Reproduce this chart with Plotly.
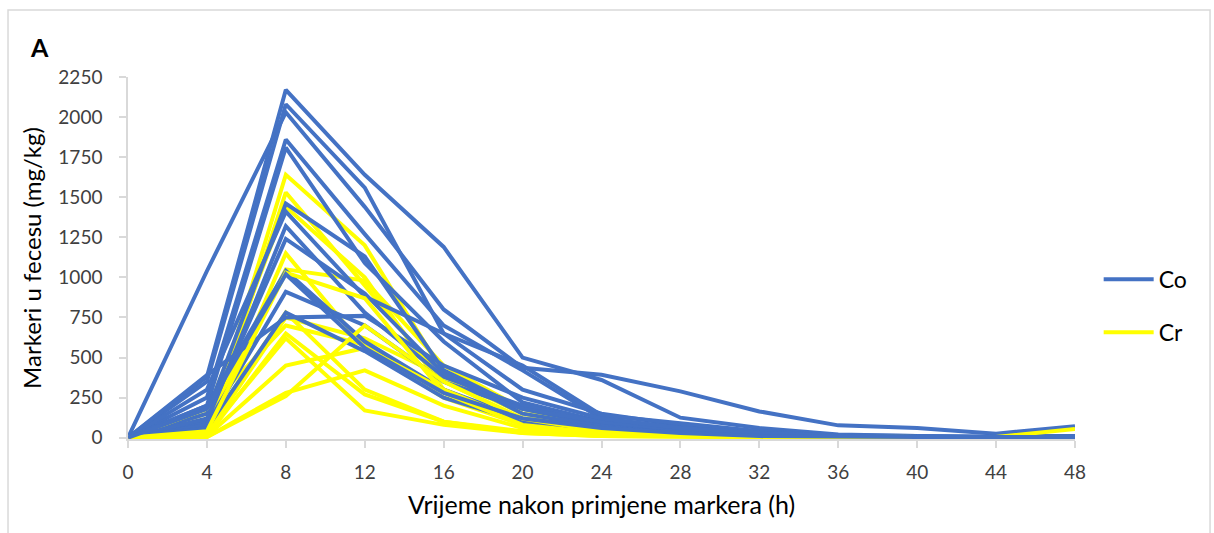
import plotly.graph_objects as go

# Sampling times after marker application (h)
hours = [0, 4, 8, 12, 16, 20, 24, 28, 32, 36, 40, 44, 48]
x_ticks = hours
y_ticks = [0, 250, 500, 750, 1000, 1250, 1500, 1750, 2000, 2250]

# Cobalt (Co) concentration in faeces, mg/kg, one list per animal
co_1 = [0, 1040, 2030, 1440, 800, 436, 393, 289, 164, 77, 60, 25, 72]
co_2 = [0, 380, 2170, 1640, 1190, 500, 360, 125, 60, 20, 10, 5, 10]
co_3 = [0, 350, 2080, 1560, 650, 300, 150, 80, 40, 15, 10, 5, 10]
co_4 = [0, 250, 1860, 1270, 700, 420, 120, 60, 30, 10, 5, 5, 10]
co_5 = [0, 200, 1810, 1090, 600, 220, 100, 50, 20, 10, 5, 5, 5]
co_6 = [0, 150, 1460, 1130, 420, 180, 80, 40, 20, 5, 5, 5, 5]
co_7 = [0, 300, 1410, 880, 650, 450, 140, 90, 40, 10, 5, 5, 5]
co_8 = [0, 100, 1320, 780, 380, 200, 100, 60, 30, 10, 5, 5, 5]
co_9 = [0, 120, 1240, 900, 400, 150, 70, 30, 10, 5, 5, 5, 5]
co_10 = [0, 200, 1040, 600, 300, 120, 60, 30, 10, 5, 5, 5, 5]
co_11 = [0, 80, 910, 700, 350, 180, 100, 50, 20, 5, 5, 5, 5]
co_12 = [0, 60, 780, 540, 250, 100, 50, 20, 10, 5, 5, 5, 5]
co_13 = [0, 390, 750, 760, 450, 250, 120, 60, 30, 10, 5, 5, 5]
co_14 = [0, 180, 1020, 560, 280, 120, 60, 30, 10, 5, 5, 5, 5]

# Chromium (Cr) concentration in faeces, mg/kg, one list per animal
cr_1 = [0, 30, 1640, 1200, 400, 150, 60, 30, 10, 5, 5, 5, 10]
cr_2 = [0, 20, 1530, 950, 350, 120, 50, 20, 10, 5, 5, 5, 5]
cr_3 = [0, 150, 1440, 1000, 300, 100, 40, 20, 10, 5, 5, 5, 5]
cr_4 = [0, 10, 1150, 560, 250, 80, 30, 10, 5, 5, 5, 5, 5]
cr_5 = [0, 100, 1050, 980, 450, 180, 60, 20, 10, 5, 5, 5, 5]
cr_6 = [0, 60, 780, 300, 100, 30, 10, 5, 5, 5, 5, 5, 5]
cr_7 = [0, 20, 750, 620, 380, 150, 60, 20, 10, 5, 5, 5, 5]
cr_8 = [0, 180, 700, 580, 300, 100, 40, 20, 10, 5, 5, 5, 5]
cr_9 = [0, 10, 650, 270, 100, 40, 10, 5, 5, 5, 5, 5, 5]
cr_10 = [0, 30, 620, 170, 80, 30, 10, 5, 5, 5, 5, 5, 5]
cr_11 = [0, 10, 450, 560, 300, 100, 30, 10, 5, 5, 5, 5, 5]
cr_12 = [0, 5, 280, 420, 200, 60, 20, 10, 5, 5, 5, 5, 5]
cr_13 = [0, 5, 260, 700, 350, 120, 40, 15, 5, 5, 5, 5, 55]
cr_14 = [0, 40, 1030, 870, 280, 80, 30, 10, 5, 5, 5, 5, 5]

co_series = [co_1, co_2, co_3, co_4, co_5, co_6, co_7, co_8, co_9, co_10, co_11, co_12, co_13, co_14]
cr_series = [cr_1, cr_2, cr_3, cr_4, cr_5, cr_6, cr_7, cr_8, cr_9, cr_10, cr_11, cr_12, cr_13, cr_14]

CO_COLOR = "#4472C4"
CR_COLOR = "#FFFF00"
FONT = "Lato"
LINE_W = 4

fig = go.Figure()

# Each animal contributes a Co and a Cr curve, drawn in turn
for i, (co_ys, cr_ys) in enumerate(zip(co_series, cr_series)):
    fig.add_trace(go.Scatter(
        x=hours, y=cr_ys, mode="lines", name="Cr", legendgroup="Cr",
        showlegend=(i == 0), legendrank=2,
        line=dict(color=CR_COLOR, width=LINE_W),
    ))
    fig.add_trace(go.Scatter(
        x=hours, y=co_ys, mode="lines", name="Co", legendgroup="Co",
        showlegend=(i == 0), legendrank=1,
        line=dict(color=CO_COLOR, width=LINE_W),
    ))

axis_gray = "#D9D9D9"
tick_font = dict(family=FONT, size=19, color="#404040")

fig.update_layout(
    width=1214, height=533,
    margin=dict(l=128, r=139, t=77, b=94),
    paper_bgcolor="white", plot_bgcolor="white",
    font=dict(family=FONT, color="#000000"),
    xaxis=dict(
        range=[0, 48], tickmode="array", tickvals=x_ticks,
        showgrid=False, zeroline=False,
        showline=True, linecolor=axis_gray, linewidth=1.5,
        ticks="outside", ticklen=7, tickcolor=axis_gray, tickwidth=1.5,
        tickfont=tick_font, ticklabelstandoff=8,
        title=dict(text="Vrijeme nakon primjene markera (h)",
                   font=dict(family=FONT, size=25, color="#000000"), standoff=15),
    ),
    yaxis=dict(
        range=[-8, 2250], tickmode="array", tickvals=y_ticks,
        showgrid=False, zeroline=False,
        showline=True, linecolor=axis_gray, linewidth=1.5,
        ticks="outside", ticklen=7, tickcolor=axis_gray, tickwidth=1.5,
        tickfont=tick_font, ticklabelstandoff=13,
        title=dict(text="Markeri u fecesu (mg/kg)",
                   font=dict(family=FONT, size=24, color="#000000"), standoff=10),
    ),
    legend=dict(
        x=1.025, y=0.368, xanchor="left", yanchor="middle",
        font=dict(family=FONT, size=23, color="#000000"),
        tracegroupgap=20, traceorder="grouped",
        itemwidth=50, bgcolor="rgba(0,0,0,0)",
    ),
    annotations=[
        dict(text="<b>A</b>", xref="paper", yref="paper",
             x=-0.093, y=1.083, xanchor="center", yanchor="middle",
             showarrow=False, font=dict(family=FONT, size=25, color="#000000")),
    ],
    shapes=[
        dict(type="rect", xref="paper", yref="paper",
             x0=-0.1267, x1=1.1426, y0=-0.4, y1=1.185,
             line=dict(color="#D9D9D9", width=1.5), fillcolor="rgba(0,0,0,0)",
             layer="below"),
    ],
    showlegend=True,
)

fig.write_html("out.html")
